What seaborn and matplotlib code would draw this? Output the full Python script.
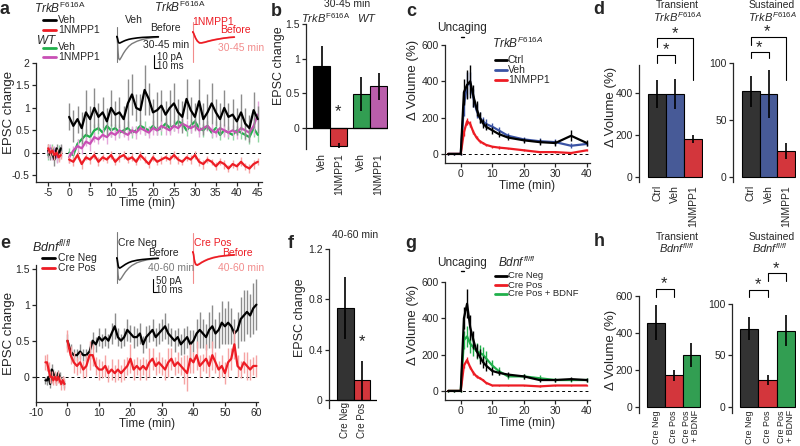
import numpy as np
import pandas as pd
import matplotlib
matplotlib.use("Agg")
import matplotlib.pyplot as plt
from matplotlib.lines import Line2D
from matplotlib.ticker import FuncFormatter
import seaborn as sns

# ---------------- data ----------------
# panel a : EPSC change, TrkB F616A / WT, baseline -5..-2 (0.5 min), post 0..45 (1 min)
a_base_t = np.arange(-5, -1.9, 0.5)
a_post_t = np.arange(0, 46, 1)

a_blk_base = [0.05, -0.05, 0.00, -0.15, 0.10, -0.05, 0.10]
a_blk_base_err = [0.15, 0.10, 0.12, 0.15, 0.10, 0.12, 0.10]
a_blk_post = [0.80, 0.60, 0.75, 0.55, 0.90, 0.75, 1.00, 0.80, 0.90, 0.70,
              1.00, 0.85, 0.90, 0.75, 1.10, 1.30, 1.00, 0.95, 1.40, 1.20,
              0.90, 0.95, 1.05, 0.85, 1.00, 1.10, 0.90, 0.80, 1.20, 0.95,
              0.80, 1.15, 0.75, 0.90, 1.10, 0.90, 0.75, 1.00, 0.80, 0.85,
              0.70, 0.90, 0.65, 0.55, 0.95, 0.75]
a_blk_post_err = [0.30, 0.35, 0.30, 0.35, 0.50, 0.30, 0.45, 0.30, 0.35, 0.30,
                  0.40, 0.30, 0.35, 0.30, 0.55, 0.45, 0.30, 0.35, 0.55, 0.35,
                  0.30, 0.40, 0.35, 0.30, 0.40, 0.45, 0.30, 0.35, 0.45, 0.30,
                  0.30, 0.50, 0.35, 0.40, 0.45, 0.30, 0.35, 0.40, 0.30, 0.35,
                  0.30, 0.40, 0.35, 0.30, 0.40, 0.30]

a_red_base = [0.10, 0.00, 0.05, -0.05, 0.00, -0.10, -0.05]
a_red_base_err = [0.10, 0.08, 0.10, 0.10, 0.08, 0.10, 0.08]
a_red_post = [-0.15, -0.20, -0.05, -0.25, -0.10, -0.15, -0.05, -0.20, -0.10, -0.15,
              -0.05, -0.20, -0.10, -0.05, -0.15, -0.10, -0.20, -0.05, -0.15, -0.25,
              -0.10, -0.20, -0.15, -0.10, -0.15, -0.05, -0.15, -0.20, -0.10, -0.15,
              -0.05, -0.20, -0.25, -0.15, -0.20, -0.30, -0.20, -0.25, -0.35, -0.25,
              -0.30, -0.20, -0.30, -0.35, -0.25, -0.20]
a_red_post_err = [0.08, 0.10, 0.08, 0.10, 0.07, 0.09, 0.08, 0.10, 0.08, 0.07,
                  0.09, 0.08, 0.10, 0.08, 0.07, 0.09, 0.08, 0.10, 0.08, 0.09,
                  0.08, 0.07, 0.09, 0.08, 0.10, 0.08, 0.09, 0.07, 0.08, 0.10,
                  0.08, 0.09, 0.10, 0.08, 0.07, 0.09, 0.08, 0.10, 0.08, 0.09,
                  0.08, 0.10, 0.08, 0.09, 0.10, 0.08]

a_grn_base = [-0.05, 0.05, 0.10, 0.00, -0.10, 0.05, 0.00]
a_grn_base_err = [0.10, 0.12, 0.10, 0.12, 0.10, 0.12, 0.10]
a_grn_post = [0.00, -0.05, 0.20, 0.30, 0.40, 0.35, 0.50, 0.55, 0.45, 0.60,
              0.50, 0.55, 0.45, 0.50, 0.55, 0.45, 0.50, 0.60, 0.55, 0.50,
              0.60, 0.50, 0.55, 0.65, 0.55, 0.60, 0.70, 0.65, 0.50, 0.60,
              0.70, 0.55, 0.50, 0.60, 0.45, 0.55, 0.40, 0.50, 0.45, 0.40,
              0.50, 0.45, 0.40, 0.35, 0.55, 0.40]
a_grn_post_err = [0.10, 0.12, 0.10, 0.15, 0.12, 0.10, 0.15, 0.12, 0.10, 0.12,
                  0.15, 0.10, 0.12, 0.10, 0.15, 0.12, 0.10, 0.12, 0.15, 0.10,
                  0.12, 0.10, 0.15, 0.12, 0.10, 0.12, 0.15, 0.10, 0.12, 0.15,
                  0.10, 0.12, 0.15, 0.10, 0.12, 0.15, 0.12, 0.10, 0.15, 0.12,
                  0.10, 0.15, 0.12, 0.15, 0.20, 0.15]

a_mag_base = [0.00, 0.10, -0.05, 0.05, -0.10, 0.00, 0.05]
a_mag_base_err = [0.12, 0.10, 0.12, 0.10, 0.12, 0.10, 0.12]
a_mag_post = [-0.10, 0.05, 0.15, 0.10, 0.25, 0.20, 0.35, 0.30, 0.40, 0.35,
              0.45, 0.40, 0.50, 0.45, 0.40, 0.50, 0.45, 0.55, 0.50, 0.45,
              0.55, 0.50, 0.60, 0.55, 0.50, 0.60, 0.55, 0.65, 0.60, 0.55,
              0.60, 0.50, 0.55, 0.60, 0.50, 0.45, 0.55, 0.50, 0.45, 0.50,
              0.45, 0.55, 0.50, 0.45, 0.60, 0.85]
a_mag_post_err = [0.12, 0.10, 0.15, 0.12, 0.10, 0.15, 0.12, 0.10, 0.12, 0.15,
                  0.10, 0.12, 0.15, 0.10, 0.12, 0.10, 0.15, 0.12, 0.10, 0.12,
                  0.15, 0.10, 0.12, 0.15, 0.10, 0.12, 0.10, 0.15, 0.12, 0.10,
                  0.12, 0.15, 0.10, 0.12, 0.15, 0.10, 0.12, 0.15, 0.10, 0.12,
                  0.15, 0.10, 0.12, 0.15, 0.20, 0.30]

# example EPSC traces (ms, pA)
trace_ms = [0, 2, 3, 4, 5, 7, 10, 14, 18, 24, 30, 40, 50, 60, 70, 80]
a_veh_before = [0, 0, -1.5, -3.5, -4.8, -5, -4.4, -3.6, -2.9, -2.1, -1.6, -1, -0.6, -0.4, -0.2, -0.1]
a_veh_after = [0, 0, -5, -12, -17, -18, -16, -13, -10.5, -7.5, -5.5, -3.5, -2.2, -1.4, -0.8, -0.5]
a_veh_art = [7.5, -19.5]
a_nm_before = [0, 0, -1, -2, -3, -5, -7, -8.5, -8.5, -8, -7.3, -6.3, -5.5, -4.8, -4.3, -4]
a_nm_after = [0, 0, -1, -2, -3, -4.8, -6.8, -8.2, -8.3, -7.8, -7, -6, -5.3, -4.7, -4.2, -3.8]
a_nm_art = [7.7, -23]

# panel b : 30-45 min
b_labels = ["Veh", "1NMPP1", "Veh", "1NMPP1"]
b_vals = [0.90, -0.25, 0.49, 0.60]
b_errs = [0.28, 0.04, 0.24, 0.19]

# panel c : spine volume, TrkB F616A
vol_t = [-4, -2, 0, 1, 2, 3, 4, 5, 6, 7, 8, 10, 12, 15, 20, 25, 30, 35, 40]
c_ctrl = [0, 0, 0, 340, 380, 400, 320, 250, 200, 170, 150, 130, 110, 90, 75, 65, 60, 100, 60]
c_ctrl_err = [5, 5, 5, 70, 80, 90, 60, 40, 30, 25, 20, 20, 15, 15, 15, 15, 15, 30, 15]
c_veh = [0, 0, 0, 270, 380, 390, 310, 240, 200, 180, 165, 150, 130, 100, 80, 70, 65, 45, 55]
c_veh_err = [5, 5, 5, 60, 70, 60, 50, 40, 30, 25, 25, 20, 20, 15, 15, 15, 15, 15, 10]
c_nm = [0, 0, 0, 120, 180, 165, 120, 90, 70, 60, 50, 40, 35, 30, 20, 10, 10, 5, 20]
c_nm_err = [3, 3, 3, 20, 20, 15, 10, 10, 8, 8, 6, 6, 6, 5, 5, 5, 5, 5, 5]

# panel d
d_labels = ["Ctrl", "Veh", "1NMPP1"]
d_trans = [395, 395, 180]
d_trans_err = [65, 72, 19]
d_sust = [75, 73, 23]
d_sust_err = [14, 21, 7]

# panel e : EPSC change, Bdnf fl/fl, baseline -7..-1 (0.5 min), post 0..60 (1 min)
e_base_t = np.arange(-7, -0.9, 0.5)
e_post_t = np.arange(0, 61, 1)
e_neg_base = [-0.05, -0.05, 0.00, -0.10, 0.10, 0.05, 0.00, -0.05, 0.05, 0.00, -0.05, -0.05, -0.10]
e_neg_base_err = [0.05, 0.06, 0.05, 0.06, 0.08, 0.06, 0.05, 0.06, 0.05, 0.06, 0.05, 0.06, 0.05]
e_neg_post = [0.50, 0.35, 0.30, 0.30, 0.35, 0.30, 0.30, 0.35, 0.50, 0.45,
              0.55, 0.50, 0.55, 0.50, 0.60, 0.70, 0.55, 0.50, 0.55, 0.65,
              0.60, 0.55, 0.55, 0.60, 0.45, 0.55, 0.60, 0.65, 0.55, 0.60,
              0.65, 0.70, 0.60, 0.55, 0.50, 0.55, 0.45, 0.50, 0.55, 0.45,
              0.50, 0.60, 0.65, 0.60, 0.55, 0.65, 0.70, 0.60, 0.65, 0.75,
              0.70, 0.75, 0.70, 0.60, 0.65, 0.80, 0.85, 0.90, 0.85, 0.95,
              1.00]
e_neg_post_err = [0.10, 0.10, 0.08, 0.08, 0.10, 0.08, 0.08, 0.10, 0.12, 0.10,
                  0.12, 0.10, 0.12, 0.10, 0.15, 0.18, 0.12, 0.10, 0.12, 0.15,
                  0.12, 0.15, 0.12, 0.15, 0.12, 0.15, 0.12, 0.15, 0.12, 0.15,
                  0.15, 0.18, 0.15, 0.12, 0.15, 0.12, 0.15, 0.18, 0.15, 0.20,
                  0.15, 0.20, 0.25, 0.20, 0.18, 0.25, 0.30, 0.20, 0.25, 0.30,
                  0.25, 0.30, 0.25, 0.20, 0.25, 0.30, 0.35, 0.30, 0.30, 0.35,
                  0.35]
e_pos_base = [0.20, 0.20, 0.10, 0.00, 0.00, -0.05, 0.00, -0.05, 0.00, -0.05, -0.10, -0.05, -0.10]
e_pos_base_err = [0.10, 0.12, 0.10, 0.08, 0.08, 0.06, 0.08, 0.06, 0.08, 0.06, 0.08, 0.06, 0.08]
e_pos_post = [0.50, 0.30, 0.20, 0.15, 0.20, 0.10, 0.15, 0.30, 0.30, 0.15,
              0.10, 0.10, 0.15, 0.05, 0.10, 0.05, 0.10, 0.05, 0.10, 0.15,
              0.25, 0.10, 0.15, 0.10, 0.15, 0.10, 0.20, 0.25, 0.15, 0.20,
              0.15, 0.10, 0.20, 0.25, 0.15, 0.20, 0.15, 0.10, 0.05, 0.25,
              0.20, 0.30, 0.15, 0.20, 0.25, 0.15, 0.30, 0.20, 0.10, 0.15,
              0.05, 0.20, 0.25, 0.45, 0.15, 0.10, 0.20, 0.15, 0.10, 0.15,
              0.15]
e_pos_post_err = [0.15, 0.12, 0.15, 0.12, 0.15, 0.12, 0.15, 0.20, 0.15, 0.12,
                  0.15, 0.12, 0.15, 0.12, 0.15, 0.12, 0.15, 0.12, 0.15, 0.12,
                  0.20, 0.15, 0.12, 0.15, 0.12, 0.15, 0.20, 0.15, 0.12, 0.15,
                  0.12, 0.15, 0.20, 0.15, 0.12, 0.15, 0.12, 0.20, 0.25, 0.20,
                  0.15, 0.20, 0.15, 0.12, 0.20, 0.15, 0.20, 0.15, 0.12, 0.15,
                  0.15, 0.20, 0.15, 0.20, 0.15, 0.12, 0.15, 0.20, 0.15, 0.12,
                  0.15]

e_neg_before = [0, 0, -15, -30, -38, -42, -38, -32, -26, -19, -14, -9, -6, -4, -2, -1]
e_neg_after = [0, 0, -35, -70, -88, -92, -84, -70, -57, -42, -31, -19, -12, -7, -4, -2]
e_neg_art = [110, -104]
e_pos_before = [0, 0, -12, -28, -40, -52, -55, -50, -44, -37, -31, -24, -19, -16, -14, -12]
e_pos_after = [0, 0, -10, -25, -37, -49, -52, -48, -42, -35, -29, -22, -18, -15, -13, -11]
e_pos_art = [79, -129]

# panel f : 40-60 min
f_labels = ["Cre Neg", "Cre Pos"]
f_vals = [0.73, 0.155]
f_errs = [0.245, 0.155]

# panel g : spine volume, Bdnf fl/fl
g_neg = [0, 0, 0, 400, 480, 350, 280, 220, 190, 160, 140, 110, 100, 90, 80, 60, 60, 65, 60]
g_neg_err = [5, 5, 5, 60, 80, 70, 50, 40, 40, 35, 30, 20, 15, 15, 12, 10, 10, 10, 10]
g_pos = [0, 0, 0, 140, 170, 130, 100, 80, 70, 60, 45, 30, 30, 30, 30, 25, 30, 30, 30]
g_pos_err = [3, 3, 3, 15, 15, 10, 10, 8, 6, 6, 5, 5, 5, 5, 5, 5, 5, 5, 5]
g_bdnf = [0, 0, 0, 280, 300, 260, 240, 220, 210, 200, 180, 140, 110, 80, 80, 70, 60, 60, 60]
g_bdnf_err = [5, 5, 5, 50, 60, 50, 50, 45, 45, 40, 40, 30, 20, 15, 15, 15, 10, 10, 10]

# panel h
h_labels = ["Cre Neg", "Cre Pos", "Cre Pos\n+ BDNF"]
h_trans = [457, 172, 283]
h_trans_err = [95, 30, 65]
h_sust = [76, 26, 74]
h_sust_err = [11, 5, 15]

# ---------------- style ----------------
sns.set_style("ticks")
plt.rcParams["font.family"] = ["Liberation Sans", "DejaVu Sans"]
plt.rcParams["mathtext.fontset"] = "custom"
plt.rcParams["mathtext.rm"] = "Liberation Sans"
plt.rcParams["mathtext.it"] = "Liberation Sans:italic"
plt.rcParams["mathtext.bf"] = "Liberation Sans:bold"
plt.rcParams["axes.unicode_minus"] = False

BLACK = "#000000"
DGRAY = "#333333"
RED = "#ed1c24"
GREEN = "#20b04b"
MAG = "#c94fb5"
BLUE = "#3a53a4"
FS = 7.5

W, H = 800, 446
fig = plt.figure(figsize=(8, 4.46), dpi=100)


def add_ax(l, t, r, b):
    return fig.add_axes([l / W, 1 - b / H, (r - l) / W, (b - t) / H])


def ftext(x, y, s, **kw):
    kw.setdefault("ha", "center")
    kw.setdefault("va", "center")
    kw.setdefault("fontsize", FS)
    fig.text(x / W, 1 - y / H, s, **kw)


def fline(xs, ys, **kw):
    fig.add_artist(Line2D([x / W for x in xs], [1 - y / H for y in ys],
                          transform=fig.transFigure, **kw))


fmt = FuncFormatter(lambda v, p: "{:g}".format(v))


def style(ax, xnum=True, xpad=3):
    sns.despine(ax=ax)
    for s in ["left", "bottom"]:
        ax.spines[s].set_linewidth(0.9)
    ax.tick_params(direction="out", length=3, width=0.9, labelsize=FS, pad=1.5)
    ax.yaxis.set_major_formatter(fmt)
    if xnum:
        ax.xaxis.set_major_formatter(fmt)
    else:
        ax.spines["bottom"].set_visible(False)
        ax.tick_params(axis="x", length=0, pad=xpad)


def labels(ax, ylab=None, ypos=None, xlab=None, xpos=None, yfs=9.5, xfs=8.5):
    if ylab:
        ax.set_ylabel(ylab, fontsize=yfs)
        ax.yaxis.set_label_coords(ypos[0] / W, 1 - ypos[1] / H, transform=fig.transFigure)
        ax.yaxis.label.set_va("center")
    if xlab:
        ax.set_xlabel(xlab, fontsize=xfs)
        ax.xaxis.set_label_coords(xpos[0] / W, 1 - xpos[1] / H, transform=fig.transFigure)
        ax.xaxis.label.set_va("center")
    else:
        ax.set_xlabel("")


def seg_df(tb, vb, tp, vp, eb, ep):
    return pd.DataFrame({"t": np.concatenate([tb, tp]),
                         "v": np.concatenate([vb, vp]),
                         "e": np.concatenate([eb, ep]),
                         "seg": ["base"] * len(tb) + ["post"] * len(tp)})


def time_series(ax, df, col, ecol, lw=1.6):
    ax.vlines(df.t, df.v - df.e, df.v + df.e, color=ecol, lw=1.0)
    sns.lineplot(data=df, x="t", y="v", units="seg", estimator=None,
                 color=col, lw=lw, ax=ax, legend=False)


def trace_ax(box, ylim, before, after, art, c_before, c_after):
    ax = add_ax(*box)
    ax.plot([2, 2], art, color=c_after, lw=0.8)
    sns.lineplot(x=trace_ms, y=after, color=c_after, lw=1.0, ax=ax)
    sns.lineplot(x=trace_ms, y=before, color=c_before, lw=1.2, ax=ax)
    ax.set_xlim(0, 85)
    ax.set_ylim(*ylim)
    ax.axis("off")
    return ax


def bars(ax, labs, vals, errs, colors, pos=None, xpad=3, lfs=FS):
    if pos is None:
        sns.barplot(x=labs, y=vals, hue=labs, palette=colors, legend=False,
                    width=1, edgecolor="black", linewidth=0.8, errorbar=None, ax=ax)
        pos = list(range(len(labs)))
    else:
        keys = ["k%d" % i for i in range(len(labs))]
        sns.barplot(x=pos, y=vals, hue=keys, palette=colors, legend=False,
                    native_scale=True, dodge=False, width=1, edgecolor="black",
                    linewidth=0.8, errorbar=None, ax=ax)
    ax.errorbar(pos, vals, yerr=errs, fmt="none", ecolor="black", elinewidth=1.2, capsize=0)
    style(ax, xnum=False, xpad=xpad)
    ax.set_xticks(pos)
    ax.set_xticklabels(labs, rotation=90, fontsize=lfs, linespacing=0.95)
    for lab in ax.get_xticklabels():
        lab.set_multialignment("right")
    ax.set_xlabel("")


def bracket(ax, x0, x1, y, y0, y1):
    ax.plot([x0, x0, x1, x1], [y0, y, y, y1], color="black", lw=0.8, clip_on=False)


TRK = r"$\mathit{TrkB}^{\mathrm{F616A}}$"
TRK_I = r"$\mathit{TrkB}^{\mathit{F616A}}$"
WT = r"$\mathit{WT}$"
BDNF = r"$\mathit{Bdnf}^{\mathit{fl/fl}}$"
DVOL = "Δ Volume (%)"

# ---------------- panel a ----------------
ax = add_ax(36, 63, 262, 182)
dfs = [(seg_df(a_base_t, a_grn_base, a_post_t, a_grn_post, a_grn_base_err, a_grn_post_err), GREEN, "#8fd6a2"),
       (seg_df(a_base_t, a_mag_base, a_post_t, a_mag_post, a_mag_base_err, a_mag_post_err), MAG, "#e4a6da"),
       (seg_df(a_base_t, a_blk_base, a_post_t, a_blk_post, a_blk_base_err, a_blk_post_err), BLACK, "#8c8c8c"),
       (seg_df(a_base_t, a_red_base, a_post_t, a_red_post, a_red_base_err, a_red_post_err), RED, "#f5a3a3")]
for d, c, ec in dfs:
    time_series(ax, d, c, ec)
ax.axhline(0, color="black", lw=0.7, ls=(0, (3, 3)), zorder=0)
ax.set_xlim(-7.9, 46)
ax.set_ylim(-0.65, 2.0)
ax.set_xticks(np.arange(-5, 46, 5))
ax.set_yticks([-0.5, 0, 0.5, 1, 1.5, 2])
style(ax)
labels(ax, "EPSC change", (9, 112), "Time (min)", (147, 203))

ftext(5, 10, "a", fontsize=13, fontweight="bold")
ftext(60, 8, TRK, fontsize=8.5)
fline([43, 56], [20, 20], color=BLACK, lw=2)
ftext(58, 20, "Veh", ha="left")
fline([43, 56], [30, 30], color=RED, lw=2)
ftext(58, 30, "1NMPP1", ha="left")
ftext(46, 40, WT, fontsize=8.5)
fline([43, 56], [48, 48], color=GREEN, lw=2)
ftext(58, 47, "Veh", ha="left")
fline([43, 56], [57, 57], color=MAG, lw=2)
ftext(58, 57, "1NMPP1", ha="left")

trace_ax((116, 20, 161, 65), (-22, 12.9), a_veh_before, a_veh_after, a_veh_art, BLACK, "#7a7a7a")
trace_ax((192, 20, 237, 65), (-25.6, 9.3), a_nm_before, a_nm_after, a_nm_art, RED, "#f28c8c")
ftext(180, 7, TRK, fontsize=8.5)
ftext(134, 20, "Veh")
ftext(165, 28, "Before")
ftext(166, 45, "30-45 min")
fline([154, 154, 159], [55, 68, 68], color="black", lw=0.8)
ftext(157, 57, "10 pA", ha="left", fontsize=7)
ftext(157, 66, "10 ms", ha="left", fontsize=7)
ftext(213, 22, "1NMPP1", color=RED)
ftext(235, 30, "Before", color=RED)
ftext(241, 48, "30-45 min", color="#f28c8c")

# ---------------- panel b ----------------
ax = add_ax(306, 24, 388, 149)
bars(ax, b_labels, b_vals, b_errs, [BLACK, RED, GREEN, MAG], pos=[0, 1, 2.3, 3.3])
ax.axhline(0, color="black", lw=0.9)
ax.set_xlim(-0.9, 3.85)
ax.set_ylim(-0.3, 1.5)
ax.set_yticks([0, 0.5, 1, 1.5])
labels(ax, "EPSC change", (279, 66), yfs=9)
ftext(276, 12, "b", fontsize=13, fontweight="bold")
ftext(347, 4, "30-45 min")
ftext(326, 18, TRK, fontsize=8)
ftext(367, 18, WT, fontsize=8)
ftext(338, 112, "*", fontsize=12)

# ---------------- panel c ----------------
ax = add_ax(445, 45, 590, 163)
for vals, errs, col in [(c_veh, c_veh_err, BLUE), (c_nm, c_nm_err, RED), (c_ctrl, c_ctrl_err, BLACK)]:
    ax.vlines(vol_t, np.array(vals) - np.array(errs), np.array(vals) + np.array(errs), color=col, lw=1.0)
    sns.lineplot(x=vol_t, y=vals, color=col, lw=1.6, ax=ax)
ax.axhline(0, color="black", lw=0.7, ls=(0, (3, 3)), zorder=0)
ax.plot([0, 1], [645, 645], color="black", lw=1, clip_on=False)
ax.set_xlim(-5, 41)
ax.set_ylim(-50, 600)
ax.set_xticks([0, 10, 20, 30, 40])
ax.set_yticks([0, 200, 400, 600])
style(ax)
labels(ax, DVOL, (413, 80), "Time (min)", (527, 186))
ftext(411, 12, "c", fontsize=13, fontweight="bold")
ftext(462, 28, "Uncaging", fontsize=8.5)
ftext(518, 43, TRK_I, fontsize=8.5)
for y, c, s in [(60, BLACK, "Ctrl"), (70, BLUE, "Veh"), (80, RED, "1NMPP1")]:
    fline([495, 507], [y, y], color=c, lw=2)
    ftext(508, y, s, ha="left")

# ---------------- panel d ----------------
ax = add_ax(639, 65, 703, 182)
bars(ax, d_labels, d_trans, d_trans_err, [DGRAY, BLUE, RED], xpad=2)
ax.set_xlim(-1.0, 2.55)
ax.set_ylim(-24, 533)
ax.set_yticks([0, 200, 400])
labels(ax, DVOL, (611, 107))
bracket(ax, 0, 1, 581, 543, 543)
bracket(ax, 0, 2, 662, 619, 462)
ftext(666, 50, "*", fontsize=12)
ftext(675, 34, "*", fontsize=12)
ftext(599, 10, "d", fontsize=13, fontweight="bold")
ftext(677, 5, "Transient")
ftext(677, 17, TRK_I, fontsize=8)

ax = add_ax(733, 63, 796, 182)
bars(ax, d_labels, d_sust, d_sust_err, [DGRAY, BLUE, RED], xpad=2)
ax.set_xlim(-1.02, 2.55)
ax.set_ylim(-4.4, 100)
ax.set_yticks([0, 50, 100])
bracket(ax, 0, 1, 110, 104, 104)
bracket(ax, 0, 2, 123, 116, 85)
ftext(759, 48, "*", fontsize=12)
ftext(767, 32, "*", fontsize=12)
ftext(772, 5, "Sustained")
ftext(772, 17, TRK_I, fontsize=8)

# ---------------- panel e ----------------
ax = add_ax(36, 265, 258, 402)
dfs = [(seg_df(e_base_t, e_neg_base, e_post_t, e_neg_post, e_neg_base_err, e_neg_post_err), BLACK, "#8c8c8c"),
       (seg_df(e_base_t, e_pos_base, e_post_t, e_pos_post, e_pos_base_err, e_pos_post_err), RED, "#f5a3a3")]
for d, c, ec in dfs:
    time_series(ax, d, c, ec)
ax.axhline(0, color="black", lw=0.7, ls=(0, (3, 3)), zorder=0)
ax.set_xlim(-10, 60.5)
ax.set_ylim(-0.35, 1.55)
ax.set_xticks(np.arange(-10, 61, 10))
ax.set_yticks([0, 0.5, 1, 1.5])
style(ax)
labels(ax, "EPSC change", (9, 333), "Time (min)", (147, 424))
ftext(5, 244, "e", fontsize=13, fontweight="bold")
ftext(52, 247, BDNF, fontsize=9)
fline([42, 55], [258, 258], color=BLACK, lw=2)
ftext(58, 258, "Cre Neg", ha="left")
fline([42, 55], [268, 268], color=RED, lw=2)
ftext(58, 268, "Cre Pos", ha="left")

trace_ax((116, 228, 161, 290), (-133, 125), e_neg_before, e_neg_after, e_neg_art, BLACK, "#7a7a7a")
trace_ax((192, 228, 237, 290), (-158, 100), e_pos_before, e_pos_after, e_pos_art, RED, "#f28c8c")
ftext(137, 243, "Cre Neg")
ftext(163, 253, "Before")
ftext(171, 268, "40-60 min", color="#7a7a7a")
fline([153, 153, 158], [279, 292, 292], color="black", lw=0.8)
ftext(156, 281, "50 pA", ha="left", fontsize=7)
ftext(156, 290, "10 ms", ha="left", fontsize=7)
ftext(213, 243, "Cre Pos", color=RED)
ftext(237, 253, "Before", color=RED)
ftext(241, 268, "40-60 min", color="#f28c8c")

# ---------------- panel f ----------------
ax = add_ax(329, 249, 377, 408)
bars(ax, f_labels, f_vals, f_errs, [DGRAY, RED], xpad=-4, lfs=7)
ax.axhline(0, color="black", lw=0.9)
ax.set_xlim(-0.98, 1.9)
ax.set_ylim(-0.065, 1.2)
ax.set_yticks([0, 0.4, 0.8, 1.2])
labels(ax, "EPSC change", (300, 318), yfs=9)
ftext(291, 243, "f", fontsize=13, fontweight="bold")
ftext(355, 235, "40-60 min")
ftext(362, 342, "*", fontsize=12)

# ---------------- panel g ----------------
ax = add_ax(445, 282, 590, 400)
for vals, errs, col in [(g_bdnf, g_bdnf_err, GREEN), (g_pos, g_pos_err, RED), (g_neg, g_neg_err, BLACK)]:
    ax.vlines(vol_t, np.array(vals) - np.array(errs), np.array(vals) + np.array(errs), color=col, lw=1.0)
    sns.lineplot(x=vol_t, y=vals, color=col, lw=1.6, ax=ax)
ax.axhline(0, color="black", lw=0.7, ls=(0, (3, 3)), zorder=0)
ax.plot([0, 1], [660, 660], color="black", lw=1, clip_on=False)
ax.set_xlim(-5, 41)
ax.set_ylim(-50, 600)
ax.set_xticks([0, 10, 20, 30, 40])
ax.set_yticks([0, 200, 400, 600])
style(ax)
labels(ax, DVOL, (413, 325), "Time (min)", (527, 423))
ftext(411, 243, "g", fontsize=13, fontweight="bold")
ftext(462, 263, "Uncaging", fontsize=8.5)
ftext(517, 262, BDNF, fontsize=8.5)
for y, c, s in [(276, BLACK, "Cre Neg"), (285, RED, "Cre Pos"), (294, GREEN, "Cre Pos + BDNF")]:
    fline([495, 507], [y, y], color=c, lw=2)
    ftext(508, y, s, ha="left", fontsize=6.8)

# ---------------- panel h ----------------
ax = add_ax(639, 296, 701, 413)
bars(ax, h_labels, h_trans, h_trans_err, [DGRAY, RED, GREEN], xpad=-2, lfs=6.5)
ax.set_xlim(-0.97, 2.55)
ax.set_ylim(-30, 600)
ax.set_yticks([0, 200, 400, 600])
labels(ax, DVOL, (611, 350))
bracket(ax, 0, 1, 638, 595, 595)
ftext(664, 284, "*", fontsize=12)
ftext(599, 242, "h", fontsize=13, fontweight="bold")
ftext(677, 237, "Transient")
ftext(677, 248, BDNF, fontsize=8)

ax = add_ax(732, 304, 796, 413)
bars(ax, h_labels, h_sust, h_sust_err, [DGRAY, RED, GREEN], xpad=-2, lfs=6.5)
ax.set_xlim(-0.94, 2.55)
ax.set_ylim(-6, 100)
ax.set_yticks([0, 50, 100])
bracket(ax, 0, 1, 113.6, 107, 107)
bracket(ax, 1, 2, 130, 122, 122)
ftext(758, 285, "*", fontsize=12)
ftext(776, 269, "*", fontsize=12)
ftext(772, 237, "Sustained")
ftext(770, 248, BDNF, fontsize=8)

fig.savefig("out.png", dpi=100)
